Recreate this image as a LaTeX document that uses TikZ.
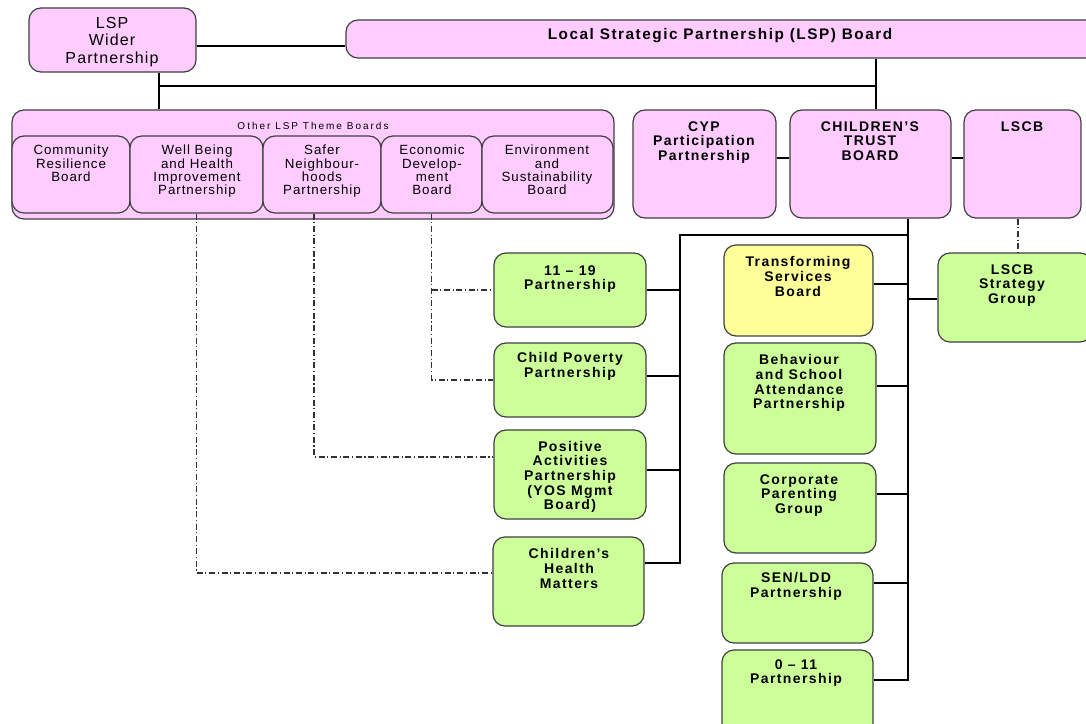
\documentclass[tikz,border=0pt]{standalone}
\usepackage{fontspec}
\setmainfont{Liberation Sans}[LetterSpace=7, BoldFeatures={LetterSpace=10}]
\newfontfamily\tinyf[LetterSpace=20]{Liberation Sans}
\usetikzlibrary{calc}
\definecolor{pinkc}{RGB}{255,204,255}
\definecolor{greenc}{RGB}{204,255,153}
\definecolor{yellowc}{RGB}{255,255,153}
\definecolor{bordc}{RGB}{64,64,64}
\definecolor{ddc}{RGB}{50,50,50}
\newcommand\mkbox[6]{\node[#2, minimum width={(#5-#3)*0.75pt}, minimum height={(#6-#4)*0.75pt}] (#1) at ({(#3+#5)/2},{(#4+#6)/2}) {};}
\tikzset{
 box/.style={draw=bordc, line width=0.9pt, rounded corners=9pt, inner sep=0pt},
 pinkbox/.style={box, fill=pinkc},
 greenbox/.style={box, fill=greenc},
 yellowbox/.style={box, fill=yellowc},
 btxt/.style={anchor=north, align=center, inner sep=0pt, font=\bfseries\fontsize{10.5}{11.1}\selectfont},
 rtxt/.style={anchor=north, align=center, inner sep=0pt, font=\fontsize{10}{10}\selectfont},
 conn/.style={draw=black, line width=0.8pt},
 dd/.style={draw=ddc, line width=0.8pt, dash pattern=on 4.5pt off 2pt on 0.8pt off 2pt},
}
\begin{document}
\begin{tikzpicture}[x=0.75pt,y=-0.75pt]
\clip (0,0) rectangle (1086,724);
\fill[white] (0,0) rectangle (1086,724);
% top level
\mkbox{lspw}{pinkbox}{29}{8}{196}{72}
\mkbox{board}{pinkbox}{346}{20}{1110}{58}
\node[rtxt, font=\fontsize{12}{13.1}\selectfont] (lspw-t) at (112,17) {LSP\\Wider\\Partnership};
\node[btxt, anchor=center, font=\bfseries\fontsize{11.5}{12}\selectfont] (board-t) at (720,36) {Local Strategic Partnership (LSP) Board};
% theme boards
\mkbox{theme}{pinkbox}{12}{110}{614}{219}
\node[inner sep=0pt, font=\tinyf\fontsize{7.5}{8}\selectfont] (other-t) at (313,126) {Other LSP Theme Boards};
\mkbox{cr}{pinkbox}{12}{136}{130}{213}
\mkbox{wb}{pinkbox}{130}{136}{263}{213}
\mkbox{sn}{pinkbox}{263}{136}{381}{213}
\mkbox{ed}{pinkbox}{381}{136}{482}{213}
\mkbox{es}{pinkbox}{482}{136}{613}{213}
\node[rtxt] (cr-t) at (71,145) {Community\\Resilience\\Board};
\node[rtxt] (wb-t) at (197,145) {Well Being\\and Health\\Improvement\\Partnership};
\node[rtxt] (sn-t) at (322,145) {Safer\\Neighbour-\\hoods\\Partnership};
\node[rtxt] (ed-t) at (432,145) {Economic\\Develop-\\ment\\Board};
\node[rtxt] (es-t) at (547,145) {Environment\\and\\Sustainability\\Board};
% second row
\mkbox{cyp}{pinkbox}{633}{110}{776}{218}
\mkbox{ct}{pinkbox}{790}{110}{951}{218}
\mkbox{lscb}{pinkbox}{964}{110}{1081}{218}
\node[btxt] (cyp-t) at (704,121) {CYP\\Participation\\Partnership};
\node[btxt] (ct-t) at (870,121) {CHILDREN'S\\TRUST\\BOARD};
\node[btxt] (lscb-t) at (1022,121) {LSCB};
% LSCB strategy group
\mkbox{sg}{greenbox}{938}{253}{1092}{342}
\node[btxt] (sg-t) at (1012,264) {LSCB\\Strategy\\Group};
% left column
\mkbox{p1119}{greenbox}{494}{253}{646}{327}
\mkbox{cp}{greenbox}{494}{343}{646}{417}
\mkbox{pa}{greenbox}{494}{430}{646}{519}
\mkbox{chm}{greenbox}{493}{537}{644}{626}
\node[btxt] (p1119-t) at (570,265) {11 \textendash\ 19\\Partnership};
\node[btxt] (cp-t) at (570,352) {Child Poverty\\Partnership};
\node[btxt, font=\bfseries\fontsize{10.5}{10.9}\selectfont] (pa-t) at (570,441) {Positive\\Activities\\Partnership\\(YOS Mgmt\\Board)};
\node[btxt] (chm-t) at (569,548) {Children's\\Health\\Matters};
% right column
\mkbox{tsb}{yellowbox}{724}{245}{873}{336}
\mkbox{bsa}{greenbox}{724}{343}{876}{454}
\mkbox{cpg}{greenbox}{724}{463}{876}{553}
\mkbox{sen}{greenbox}{722}{563}{873}{643}
\mkbox{zero}{greenbox}{722}{650}{873}{740}
\node[btxt] (tsb-t) at (798,256) {Transforming\\Services\\Board};
\node[btxt] (bsa-t) at (799,354) {Behaviour\\and School\\Attendance\\Partnership};
\node[btxt] (cpg-t) at (799,474) {Corporate\\Parenting\\Group};
\node[btxt] (sen-t) at (796,572) {SEN/LDD\\Partnership};
\node[btxt] (zero-t) at (796,659) {0 \textendash\ 11\\Partnership};
% helper coordinates
\coordinate (hy) at (0,86);
\coordinate (wx) at (159,0);
\coordinate (spine) at (908,0);
\coordinate (lsp) at (680,0);
\coordinate (brd) at (876,0);
% connectors (solid)
\draw[conn] (lspw.east |- 0,46) -- (board.west |- 0,46);
\draw[conn] (lspw.south -| wx) -- (theme.north -| wx);
\draw[conn] (hy -| wx) -- (hy -| brd);
\draw[conn] (board.south -| brd) -- (ct.north -| brd);
\draw[conn] (cyp.east |- 0,158) -- (ct.west |- 0,158);
\draw[conn] (ct.east |- 0,158) -- (lscb.west |- 0,158);
\draw[conn] (ct.south -| spine) -- (spine |- 0,680) -- (zero.east |- 0,680);
\draw[conn] (tsb.east |- 0,284) -- (spine |- 0,284);
\draw[conn] (bsa.east |- 0,386) -- (spine |- 0,386);
\draw[conn] (cpg.east |- 0,494) -- (spine |- 0,494);
\draw[conn] (sen.east |- 0,583) -- (spine |- 0,583);
\draw[conn] (spine |- 0,299) -- (sg.west |- 0,299);
\draw[conn] (spine |- 0,235) -- (lsp |- 0,235) -- (lsp |- 0,563) -- (chm.east |- 0,563);
\draw[conn] (p1119.east |- 0,290) -- (lsp |- 0,290);
\draw[conn] (cp.east |- 0,376) -- (lsp |- 0,376);
\draw[conn] (pa.east |- 0,470) -- (lsp |- 0,470);
% connectors (dash-dot)
\draw[dd] (lscb.south -| 1018,0) -- (sg.north -| 1018,0);
\draw[dd] (ed.south) -- (ed.south |- 0,380) -- (cp.west |- 0,380);
\draw[dd] (ed.south |- 0,290) -- (p1119.west |- 0,290);
\draw[dd] (sn.south -| 314,0) -- (314,457) -- (pa.west |- 0,457);
\draw[dd] (wb.south) -- (wb.south |- 0,573) -- (chm.west |- 0,573);
\end{tikzpicture}
\end{document}
